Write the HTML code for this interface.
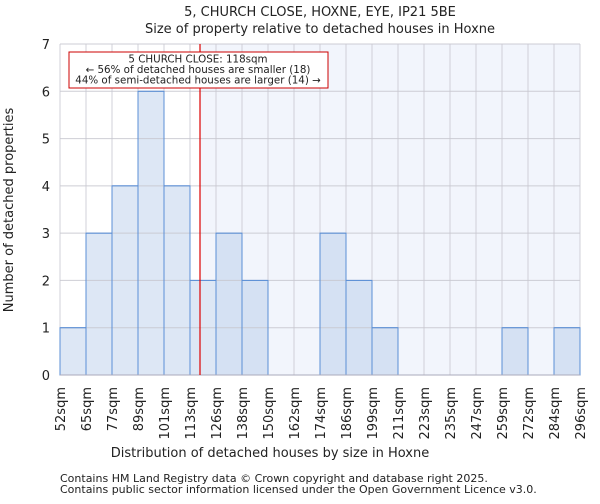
<!DOCTYPE html>
<html><head><meta charset="utf-8"><style>
body{margin:0;background:#fff;width:600px;height:500px;overflow:hidden;font-family:"DejaVu Sans","Liberation Sans",sans-serif}
svg text{font-family:"DejaVu Sans","Liberation Sans",sans-serif;fill:#222}
</style></head><body>
<svg id="c" width="600" height="500">
<text x="320" y="16" text-anchor="middle" font-size="13">5, CHURCH CLOSE, HOXNE, EYE, IP21 5BE</text>
<text x="320" y="33" text-anchor="middle" font-size="13">Size of property relative to detached houses in Hoxne</text>
<g id="plot"></g>
<text x="270" y="457" text-anchor="middle" font-size="13">Distribution of detached houses by size in Hoxne</text>
<text transform="translate(13,210) rotate(-90)" text-anchor="middle" font-size="13">Number of detached properties</text>
<text x="60" y="482" font-size="11" fill="#444">Contains HM Land Registry data © Crown copyright and database right 2025.</text>
<text x="60" y="493" font-size="11" fill="#444">Contains public sector information licensed under the Open Government Licence v3.0.</text>
</svg>
<script>
const binLabels=["52sqm","65sqm","77sqm","89sqm","101sqm","113sqm","126sqm","138sqm","150sqm","162sqm","174sqm","186sqm","199sqm","211sqm","223sqm","235sqm","247sqm","259sqm","272sqm","284sqm","296sqm"];
const binEdges=[52,65,77,89,101,113,126,138,150,162,174,186,199,211,223,235,247,259,272,284,296];
const counts=[1,3,4,6,4,2,3,2,0,0,3,2,1,0,0,0,0,1,0,1];
const yTicks=[0,1,2,3,4,5,6,7];
const subject=118;
const L=60,R=580,T=44,B=375,yMax=7;
const NS="http://www.w3.org/2000/svg";
const g=document.getElementById('plot');
const n=counts.length,bw=(R-L)/n;
const xi=i=>L+i*bw;
function xv(v){for(let i=0;i<binEdges.length-1;i++){if(v<=binEdges[i+1])return xi(i)+bw*(v-binEdges[i])/(binEdges[i+1]-binEdges[i]);}return R;}
const y=v=>B-(B-T)*v/yMax;
function mk(t,a,p){const e=document.createElementNS(NS,t);for(const k in a)e.setAttribute(k,a[k]);(p||g).appendChild(e);return e;}
const sx=xv(subject);
let sh=mk('rect',{x:sx,y:T,width:R-sx,height:B-T,fill:'#f2f5fc'});


counts.forEach((c,i)=>{if(!c)return;const r=mk('rect',{x:xi(i),y:y(c),width:bw,height:B-y(c),fill:xi(i)>sx?'#d5e1f3':'#dde7f5',stroke:'#5b8fd6','stroke-width':1});

});
yTicks.forEach(t=>{const l=mk('line',{x1:L,x2:R,y1:y(t),y2:y(t),stroke:'#c8c8d0','stroke-width':1,opacity:0.9});


const tx=mk('text',{x:L-10,y:y(t)+5,'text-anchor':'end','font-size':13});tx.textContent=t;

});
binLabels.forEach((lb,i)=>{const l=mk('line',{x1:xi(i),x2:xi(i),y1:T,y2:B,stroke:'#c8c8d0','stroke-width':1,opacity:0.8});


const tx=mk('text',{transform:`translate(${xi(i)+5},387) rotate(-90)`,'text-anchor':'end','font-size':13});tx.textContent=lb;

});
counts.forEach((c,i)=>{if(!c)return;const r=mk('rect',{x:xi(i),y:y(c),width:bw,height:B-y(c),fill:'none',stroke:'#5b8fd6','stroke-width':1});

});
const ax=mk('line',{x1:L,x2:R,y1:B,y2:B,stroke:'#aab','stroke-width':1});


const rl=mk('line',{x1:sx,x2:sx,y1:T,y2:B,stroke:'#d00','stroke-width':1.2});


const bx=mk('rect',{x:69,y:52,width:259,height:36,fill:'#fff',stroke:'#c00','stroke-width':1});


["5 CHURCH CLOSE: 118sqm","← 56% of detached houses are smaller (18)","44% of semi-detached houses are larger (14) →"].forEach((s,k)=>{const t=mk('text',{x:198,y:62.5+k*10.5,'text-anchor':'middle','font-size':10.3});t.textContent=s;

});
</script>
</body></html>
